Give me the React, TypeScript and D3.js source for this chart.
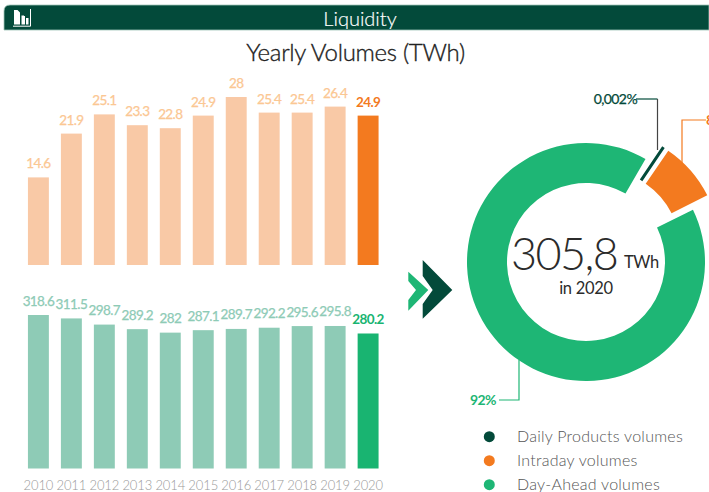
import React from "react";
import * as d3 from "d3";

const years = ["2010","2011","2012","2013","2014","2015","2016","2017","2018","2019","2020"];
const intraday = [14.6,21.9,25.1,23.3,22.8,24.9,28,25.4,25.4,26.4,24.9];
const dayAhead = [318.6,311.5,298.7,289.2,282,287.1,289.7,292.2,295.6,295.8,280.2];
const shareNames = ["Daily Products volumes","Intraday volumes","Day-Ahead volumes"];
const shareValues = [0.002,8,92];
const shareColors = ["#034a3a","#f37a1f","#1eb675"];
const FONT = "Lato, sans-serif";
const rad = (d:number)=>d*Math.PI/180;

export default function App(){
  const x = d3.scaleBand<string>().domain(years).range([22,384.5]).paddingInner(0.365).paddingOuter(0.18);
  const yTop = d3.scaleLinear().domain([0,28]).range([265,97]);
  const yBot = d3.scaleLinear().domain([0,318.6]).range([468.5,315]);
  const pie = d3.pie<number>().sort(null).startAngle(rad(34.4)).endAngle(rad(394.4));
  const arcs = pie(shareValues);
  const arc = d3.arc<any>().innerRadius(79).outerRadius(119);
  const cx=586, cy=262;
  const offset=(a:number,d:number)=>[Math.sin(a)*d,-Math.cos(a)*d];
  const [ox,oy]=offset((arcs[1].startAngle+arcs[1].endAngle)/2,20);
  const [dx,dy]=offset(arcs[0].startAngle-rad(0.4),19.5);
  const cd=arcs[0].startAngle-rad(0.4);
  return (
    <svg width={709} height={492} style={{position:"absolute",left:0,top:0,fontFamily:FONT}}>
      <path d="M4 30V11Q4 5 10 5H709V30Z" fill="#034a3a" stroke="#9fc4b8" strokeWidth={0.8}/>
      <g fill="none" stroke="#fff">
        <path d="M30.5 9V26.2H13" strokeWidth={1}/>
        <path d="M14 24.5V10h3.5L20 12.5V24.5ZM21.5 24.5V15.5H25V24.5ZM26 24.5V18H28.5V24.5Z" fill="#fff" stroke="none"/>
        <path d="M19 10L26 17" stroke="#034a3a" strokeWidth={1}/>
      </g>
      <text x={360} y={26} textAnchor="middle" fontSize={20} fill="#fff" stroke="#fff" strokeWidth={0.2} fontWeight={300}>Liquidity</text>
      <text x={355.5} y={61} textAnchor="middle" fontSize={24} fill="#222" stroke="#222" strokeWidth={0.35} fontWeight={300} letterSpacing={-0.3}>Yearly Volumes (TWh)</text>

      {intraday.map((v,i)=>{const last=i===years.length-1;return <g key={years[i]}>
        <rect x={x(years[i])} y={yTop(v)} width={x.bandwidth()} height={265-yTop(v)} fill={last?"#f37a1f":"#f9c9a6"}/>
        <text x={x(years[i])!+x.bandwidth()/2} y={yTop(v)-9} textAnchor="middle" fontSize={13.5} fontWeight={last?700:400} letterSpacing={-0.6} fill={last?"#f37a1f":"#fbc793"} stroke={last?"none":"#fbc793"} strokeWidth={0.25}>{v}</text>
      </g>})}
      {dayAhead.map((v,i)=>{const last=i===years.length-1;return <g key={years[i]}>
        <rect x={x(years[i])} y={yBot(v)} width={x.bandwidth()} height={468.5-yBot(v)} fill={last?"#19b471":"#8ecbb6"}/>
        <text x={x(years[i])!+x.bandwidth()/2} y={yBot(v)-9.5} textAnchor="middle" fontSize={13.5} fontWeight={last?700:400} letterSpacing={-0.6} fill={last?"#19b471":"#8ecbb6"} stroke={last?"none":"#8ecbb6"} strokeWidth={0.25}>{v}</text>
        <text x={x(years[i])!+x.bandwidth()/2} y={490} textAnchor="middle" fontSize={13} fontWeight={300} letterSpacing={-0.1} fill="#999">{years[i]}</text>
      </g>})}

      <path d="M408.3 271.7L428.3 290L408.3 310.7V300L416 290L408.3 281Z" fill="#1eb675"/>
      <path d="M422.7 260L452.3 290L422.7 318.7V304L432.7 290L422.7 276Z" fill="#034a3a"/>

      <path d={arc({startAngle:arcs[2].startAngle+rad(0.8),endAngle:arcs[2].endAngle-rad(4.4)})!} transform={`translate(${cx},${cy})`} fill={shareColors[2]}/>
      <path d={arc(arcs[1])!} transform={`translate(${cx+ox},${cy+oy})`} fill={shareColors[1]}/>
      <path d={arc({startAngle:cd,endAngle:cd})!} transform={`translate(${cx+dx},${cy+dy})`} fill="none" stroke={shareColors[0]} strokeWidth={3}/>

      <path d="M636 99H657.5" stroke="#034a3a" strokeWidth={1.2} fill="none"/>
      <path d="M657.5 99V150" stroke="#444" strokeWidth={1.2} fill="none"/>
      <text x={637} y={103.5} textAnchor="end" fontSize={14} fontWeight={400} letterSpacing={-0.6} stroke={shareColors[0]} strokeWidth={0.25} fill={shareColors[0]}>0,002%</text>
      <path d="M706 120H682V164" stroke={shareColors[1]} strokeWidth={1.2} fill="none"/>
      <text x={706} y={124.5} fontSize={14} fontWeight={700} letterSpacing={-0.5} fill={shareColors[1]}>8%</text>
      <path d="M519 360V400H499" stroke={shareColors[2]} strokeWidth={1.2} fill="none"/>
      <text x={496} y={405} textAnchor="end" fontSize={14} fontWeight={700} letterSpacing={-0.6} fill={shareColors[2]}>92%</text>

      <text x={511} y={270} fontSize={45} fontWeight={300} letterSpacing={-1.6} fill="#2b2b2b">305,8</text>
      <text x={624} y={268} fontSize={16.5} fontWeight={400} letterSpacing={-0.4} fill="#2b2b2b">TWh</text>
      <text x={586} y={294} textAnchor="middle" fontSize={16.5} fontWeight={400} letterSpacing={-0.3} fill="#2b2b2b">in 2020</text>

      {shareNames.map((n,i)=><g key={n}>
        <circle cx={489.3} cy={436.7+i*24} r={5.5} fill={shareColors[i]}/>
        <text x={517} y={442+i*24} fontSize={16} fontWeight={300} fill="#555" letterSpacing={0.25}>{n}</text>
      </g>)}
    </svg>
  );
}
